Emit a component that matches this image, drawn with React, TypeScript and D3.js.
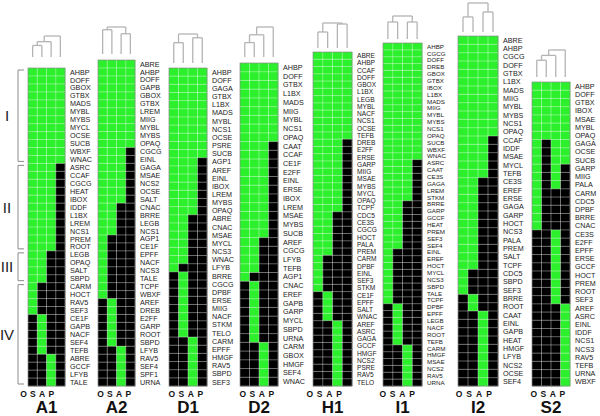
import React from 'react'
import * as d3 from 'd3'

// tissue columns
const COLUMNS = ['O', 'S', 'A', 'P']

// motif families per panel, top to bottom, and their presence call per column (O S A P)
const A1_MOTIFS = ['AHBP', 'DOFF', 'GBOX', 'GTBX', 'MADS', 'MYBL', 'MYBS', 'MYCL', 'OCSE', 'SUCB', 'WBXF', 'WNAC',
  'ASRC', 'CCAF', 'CGCG', 'HEAT', 'IBOX', 'IDDF', 'L1BX', 'LREM', 'NCS1', 'PREM', 'ROOT',
  'LEGB', 'OPAQ', 'SALT', 'SBPD', 'CARM', 'HOCT', 'RAV5', 'SEF3', 'CE1F', 'GAPB', 'NACF', 'SEF4', 'TEFB',
  'ABRE', 'GCCF', 'LFYB', 'TALE']
const A1_CALLS = ['1111', '1111', '1111', '1111', '1111', '1111', '1111', '1111', '1111', '1111', '1111', '1111',
  '1110', '1110', '1110', '1110', '1110', '1110', '1110', '1110', '1110', '1110', '1110',
  '1100', '1100', '1100', '1100', '1000', '1000', '1000', '1000', '0100', '0100', '0100', '0100', '0100',
  '0010', '0010', '0010', '0010']

const A2_MOTIFS = ['ABRE', 'AHBP', 'DOFF', 'GAPB', 'GBOX', 'GTBX', 'LREM', 'MIIG', 'MYBL', 'MYBS', 'OPAQ',
  'CGCG', 'EINL', 'GAGA', 'MSAE', 'NCS2', 'OCSE', 'SALT', 'CNAC', 'BRRE', 'LEGB', 'NCS1',
  'AGP1', 'CE1F', 'EPFF', 'NACF', 'NCS3', 'TALE', 'TCPF', 'WBXF', 'AREF', 'DREB', 'E2FF', 'GARP', 'ROOT', 'SBPD',
  'LFYB', 'RAV5', 'SEF4', 'SPF1', 'URNA']
const A2_CALLS = ['1111', '1111', '1111', '1111', '1111', '1111', '1111', '1111', '1111', '1111', '1111',
  '1110', '1110', '1110', '1110', '1110', '1110', '1110', '1100', '1100', '1100', '1100',
  '1000', '1000', '1000', '1000', '1000', '1000', '1000', '1000', '0100', '0100', '0100', '0100', '0100', '0100',
  '0010', '0010', '0010', '0010', '0010']

const D1_MOTIFS = ['AHBP', 'DOFF', 'GAGA', 'GTBX', 'L1BX', 'MADS', 'MYBL', 'NCS1', 'OCSE', 'PSRE', 'SUCB',
  'AGP1', 'AREF', 'EINL', 'IBOX', 'LREM', 'MYBS', 'OPAQ', 'ABRE', 'CNAC', 'MSAE', 'MYCL', 'NCS3', 'WNAC',
  'LFYB', 'BRRE', 'CGCG', 'DPBF', 'ERSE', 'MIIG', 'NACF', 'STKM', 'TELO',
  'CARM', 'EPFF', 'HMGF', 'RAV5', 'SBPD', 'SEF3']
const D1_CALLS = ['1111', '1111', '1111', '1111', '1111', '1111', '1111', '1111', '1111', '1111', '1111',
  '1110', '1110', '1110', '1110', '1110', '1110', '1110', '1100', '1100', '1100', '1100', '1100', '1100',
  '1000', '0100', '0100', '0100', '0100', '0100', '0100', '0100', '0100',
  '0010', '0010', '0010', '0010', '0010', '0010']

const D2_MOTIFS = ['AHBP', 'DOFF', 'GTBX', 'L1BX', 'MADS', 'MIIG', 'MYBL', 'NCS1', 'OPAQ',
  'CAAT', 'CCAF', 'CE1F', 'E2FF', 'EINL', 'ERSE', 'IBOX', 'LREM', 'MSAE', 'MYBS', 'SUCB',
  'AREF', 'CGCG', 'LFYB', 'TEFB', 'AGP1', 'CNAC', 'EREF', 'GAPB', 'GARP', 'MYCL', 'SBPD', 'URNA',
  'CARM', 'GBOX', 'HMGF', 'SEF4', 'WNAC']
const D2_CALLS = ['1111', '1111', '1111', '1111', '1111', '1111', '1111', '1111', '1111',
  '1110', '1110', '1110', '1110', '1110', '1110', '1110', '1110', '1110', '1110', '1110',
  '1100', '1100', '1100', '1100', '1000', '0100', '0100', '0100', '0100', '0100', '0100', '0100',
  '0010', '0010', '0010', '0010', '0010']

const H1_MOTIFS = ['ABRE', 'AHBP', 'CCAF', 'DOFF', 'GBOX', 'L1BX', 'LEGB', 'MYBL', 'NACF', 'NCS1', 'OCSE', 'TEFB',
  'DREB', 'E2FF', 'ERSE', 'GARP', 'MIIG', 'MSAE', 'MYBS', 'MYCL', 'OPAQ', 'TCPF',
  'CDC5', 'CE3S', 'CGCG', 'HOCT', 'PALA', 'PREM', 'CARM', 'DPBF', 'EINL', 'SEF3', 'STKM',
  'CE1F', 'EPFF', 'SALT', 'WNAC', 'AREF', 'ASRC', 'GAGA', 'GCCF', 'HMGF', 'NCS2', 'PSRE', 'RAV5', 'TELO']
const H1_CALLS = ['1111', '1111', '1111', '1111', '1111', '1111', '1111', '1111', '1111', '1111', '1111', '1111',
  '1110', '1110', '1110', '1110', '1110', '1110', '1110', '1110', '1110', '1110',
  '1100', '1100', '1100', '1100', '1100', '1100', '1000', '1000', '1000', '1000', '1000',
  '0100', '0100', '0100', '0100', '0010', '0010', '0010', '0010', '0010', '0010', '0010', '0010', '0010']

const I1_MOTIFS = ['AHBP', 'CGCG', 'DOFF', 'DREB', 'GBOX', 'GTBX', 'IBOX', 'L1BX', 'MADS', 'MIIG', 'MYBL', 'MYBS',
  'NCS1', 'OPAQ', 'SUCB', 'WBXF', 'WNAC', 'ASRC', 'CAAT', 'CE3S', 'GAGA', 'LREM', 'STKM',
  'BRRE', 'GARP', 'GCCF', 'HEAT', 'PREM', 'SEF3', 'SEF4', 'EINL', 'EREF', 'HOCT', 'MYCL', 'NCS3', 'SBPD', 'TALE', 'TCPF',
  'DPBF', 'EPFF', 'LEGB', 'NACF', 'ROOT', 'TEFB', 'CARM', 'HMGF', 'MSAE', 'NCS2', 'RAV5', 'URNA']
const I1_CALLS = ['1111', '1111', '1111', '1111', '1111', '1111', '1111', '1111', '1111', '1111', '1111', '1111',
  '1111', '1111', '1111', '1111', '1111', '1110', '1110', '1110', '1110', '1110', '1110',
  '1100', '1100', '1100', '1100', '1100', '1100', '1100', '1000', '1000', '1000', '1000', '1000', '1000', '1000', '1000',
  '0100', '0100', '0100', '0100', '0100', '0100', '0010', '0010', '0010', '0010', '0010', '0010']

const I2_MOTIFS = ['ABRE', 'AHBP', 'CGCG', 'DOFF', 'GTBX', 'L1BX', 'MADS', 'MIIG', 'MYBL', 'MYBS', 'NCS1', 'OPAQ',
  'CCAF', 'IDDF', 'MSAE', 'MYCL', 'TEFB', 'CE3S', 'EREF', 'ERSE', 'GAGA', 'GARP', 'HOCT', 'NCS3', 'PALA', 'PREM',
  'SALT', 'TCPF', 'CDC5', 'SBPD', 'SEF3', 'BRRE', 'ROOT',
  'CAAT', 'EINL', 'GAPB', 'HEAT', 'HMGF', 'LFYB', 'NCS2', 'OCSE', 'SEF4']
const I2_CALLS = ['1111', '1111', '1111', '1111', '1111', '1111', '1111', '1111', '1111', '1111', '1111', '1111',
  '1110', '1110', '1110', '1110', '1110', '1100', '1100', '1100', '1100', '1100', '1100', '1100', '1100', '1100',
  '1100', '1100', '1000', '1000', '1000', '0100', '0100',
  '0010', '0010', '0010', '0010', '0010', '0010', '0010', '0010', '0010']

const S2_MOTIFS = ['AHBP', 'DOFF', 'GTBX', 'IBOX', 'MSAE', 'MYBL', 'OPAQ', 'GAGA', 'OCSE', 'SUCB',
  'GARP', 'MIIG', 'PALA', 'CARM', 'CDC5', 'DPBF', 'BRRE', 'CNAC',
  'CE3S', 'E2FF', 'EPFF', 'ERSE', 'GCCF', 'HOCT', 'PREM', 'ROOT', 'SEF3',
  'AREF', 'ASRC', 'EINL', 'IDDF', 'NCS1', 'NCS3', 'RAV5', 'TEFB', 'URNA', 'WBXF']
const S2_CALLS = ['1111', '1111', '1111', '1111', '1111', '1111', '1111', '1011', '1011', '1011',
  '1010', '1010', '1010', '1000', '1000', '1000', '1000', '1000',
  '0010', '0010', '0010', '0010', '0010', '0010', '0010', '0010', '0010',
  '0001', '0001', '0001', '0001', '0001', '0001', '0001', '0001', '0001', '0001']

// column clustering (merge heights, 1 = root)
type Tree = string | { h: number; kids: Tree[] }
const A1_TREE: Tree = { h: 1, kids: [{ h: 0.73, kids: [{ h: 0.55, kids: ['O', 'S'] }, 'A'] }, 'P'] }
const A2_TREE: Tree = { h: 1, kids: [{ h: 0.9, kids: ['O', 'S'] }, { h: 0.75, kids: ['A', 'P'] }] }
const D1_TREE: Tree = { h: 1, kids: [{ h: 0.7, kids: ['O', 'S'] }, { h: 0.87, kids: ['A', 'P'] }] }
const D2_TREE: Tree = { h: 1, kids: [{ h: 0.74, kids: [{ h: 0.48, kids: ['O', 'S'] }, 'A'] }, 'P'] }
const H1_TREE: Tree = { h: 1, kids: [{ h: 0.64, kids: ['O', 'S'] }, { h: 0.96, kids: ['A', 'P'] }] }
const I1_TREE: Tree = { h: 1, kids: [{ h: 0.74, kids: ['O', 'S'] }, { h: 0.74, kids: ['A', 'P'] }] }
const I2_TREE: Tree = { h: 1, kids: [{ h: 0.52, kids: ['O', 'S'] }, { h: 0.69, kids: ['A', 'P'] }] }
const S2_TREE: Tree = { h: 1, kids: [{ h: 0.8, kids: [{ h: 0.62, kids: ['O', 'S'] }, 'A'] }, 'P'] }

// motif clusters marked on A1
const CLUSTERS = ['I', 'II', 'III', 'IV']
const CLUSTER_FIRST = ['AHBP', 'ASRC', 'LEGB', 'CARM']
const CLUSTER_LAST = ['WNAC', 'ROOT', 'SBPD', 'TALE']

const GREEN = '#2cf02c'
const BOTTOM = 386
const FONT = 'Liberation Sans, Arial, sans-serif'

const PANELS = [
  { name: 'A1', motifs: A1_MOTIFS, calls: A1_CALLS, tree: A1_TREE, left: 28, right: 65, top: 68, dTop: 36, dBot: 57, capDx: -9 },
  { name: 'A2', motifs: A2_MOTIFS, calls: A2_CALLS, tree: A2_TREE, left: 98, right: 135, top: 60, dTop: 27, dBot: 54, capDx: -2 },
  { name: 'D1', motifs: D1_MOTIFS, calls: D1_CALLS, tree: D1_TREE, left: 169, right: 207, top: 68, dTop: 34, dBot: 63, capDx: -2 },
  { name: 'D2', motifs: D2_MOTIFS, calls: D2_CALLS, tree: D2_TREE, left: 240, right: 278, top: 63, dTop: 27, dBot: 57, capDx: -2 },
  { name: 'H1', motifs: H1_MOTIFS, calls: H1_CALLS, tree: H1_TREE, left: 313, right: 352, top: 52, dTop: 23, dBot: 48, capDx: -8 },
  { name: 'I1', motifs: I1_MOTIFS, calls: I1_CALLS, tree: I1_TREE, left: 383, right: 422, top: 43, dTop: 16, dBot: 39, capDx: -5 },
  { name: 'I2', motifs: I2_MOTIFS, calls: I2_CALLS, tree: I2_TREE, left: 458, right: 498, top: 36, dTop: 3, dBot: 32, capDx: -4 },
  { name: 'S2', motifs: S2_MOTIFS, calls: S2_CALLS, tree: S2_TREE, left: 532, right: 570, top: 82, dTop: 50, dBot: 77, capDx: -3 },
]

function Panel({ p }: { p: (typeof PANELS)[number] }) {
  const x = d3.scaleBand().domain(COLUMNS).range([p.left, p.right])
  const y = d3.scaleBand().domain(p.motifs).range([p.top, BOTTOM])
  const hy = d3.scaleLinear().domain([0, 1]).range([p.dBot, p.dTop])
  const bw = x.bandwidth()
  const bh = y.bandwidth()
  const labelSize = Math.min(7.2, bh / 1.1)

  // elbow dendrogram
  const segs: number[][] = []
  const walk = (n: Tree): { x: number; h: number } => {
    if (typeof n === 'string') return { x: (x(n) as number) + bw / 2, h: 0 }
    const kids = n.kids.map(walk)
    kids.forEach(k => segs.push([k.x, hy(k.h), k.x, hy(n.h)]))
    const xs = kids.map(k => k.x)
    const lo = d3.min(xs) as number, hi = d3.max(xs) as number
    segs.push([lo, hy(n.h), hi, hy(n.h)])
    return { x: (lo + hi) / 2, h: n.h }
  }
  walk(p.tree)

  const cx = (p.left + p.right) / 2

  return (
    <g>
      {segs.map((s, i) => (
        <line key={'d' + i} x1={s[0]} y1={s[1]} x2={s[2]} y2={s[3]} stroke="#b4b4b4" strokeWidth={1.3} />
      ))}
      {p.motifs.map((m, r) =>
        COLUMNS.map((c, j) => (
          <rect key={m + c} x={x(c)} y={y(m)} width={bw + 0.3} height={bh + 0.3}
            fill={p.calls[r][j] === '1' ? GREEN : '#000'} />
        ))
      )}
      {COLUMNS.slice(1).map(c => (
        <line key={'v' + c} x1={x(c)} x2={x(c)} y1={p.top} y2={BOTTOM} stroke="#fff" strokeOpacity={0.55} strokeWidth={0.7} />
      ))}
      {p.motifs.slice(1).map(m => (
        <line key={'h' + m} x1={p.left} x2={p.right} y1={y(m)} y2={y(m)} stroke="#fff" strokeOpacity={0.55} strokeWidth={0.7} />
      ))}
      <rect x={p.left} y={p.top} width={p.right - p.left} height={BOTTOM - p.top} fill="none" stroke="#8a8a8a" strokeWidth={0.7} />
      {p.motifs.map(m => (
        <text key={'t' + m} x={p.right + 5} y={(y(m) as number) + bh / 2} dy="0.36em"
          fontFamily={FONT} fontSize={labelSize} fill="#222">{m}</text>
      ))}
      {COLUMNS.map(c => (
        <text key={'c' + c} x={(x(c) as number) + bw / 2 + p.capDx} y={397} textAnchor="middle"
          fontFamily={FONT} fontSize={8.5} fontWeight="bold" fill="#111">{c}</text>
      ))}
      <text x={cx} y={413} textAnchor="middle" fontFamily={FONT} fontSize={17} fontWeight="bold" fill="#111">{p.name}</text>
    </g>
  )
}

export default function App() {
  const a1 = PANELS[0]
  const ya1 = d3.scaleBand().domain(a1.motifs).range([a1.top, BOTTOM])
  return (
    <svg width={600} height={416} style={{ position: 'absolute', left: 0, top: 0, background: '#fff' }}>
      {CLUSTERS.map((name, i) => {
        const y0 = (ya1(CLUSTER_FIRST[i]) as number) + 2
        const y1 = (ya1(CLUSTER_LAST[i]) as number) + ya1.bandwidth() - 2
        return (
          <g key={name}>
            <path d={`M24,${y0}H18V${y1}H24`} fill="none" stroke="#8c8c8c" strokeWidth={1} />
            <text x={7} y={(y0 + y1) / 2} dy="0.36em" textAnchor="middle" fontFamily={FONT} fontSize={15} fill="#222">{name}</text>
          </g>
        )
      })}
      {PANELS.map(p => <Panel key={p.name} p={p} />)}
    </svg>
  )
}
